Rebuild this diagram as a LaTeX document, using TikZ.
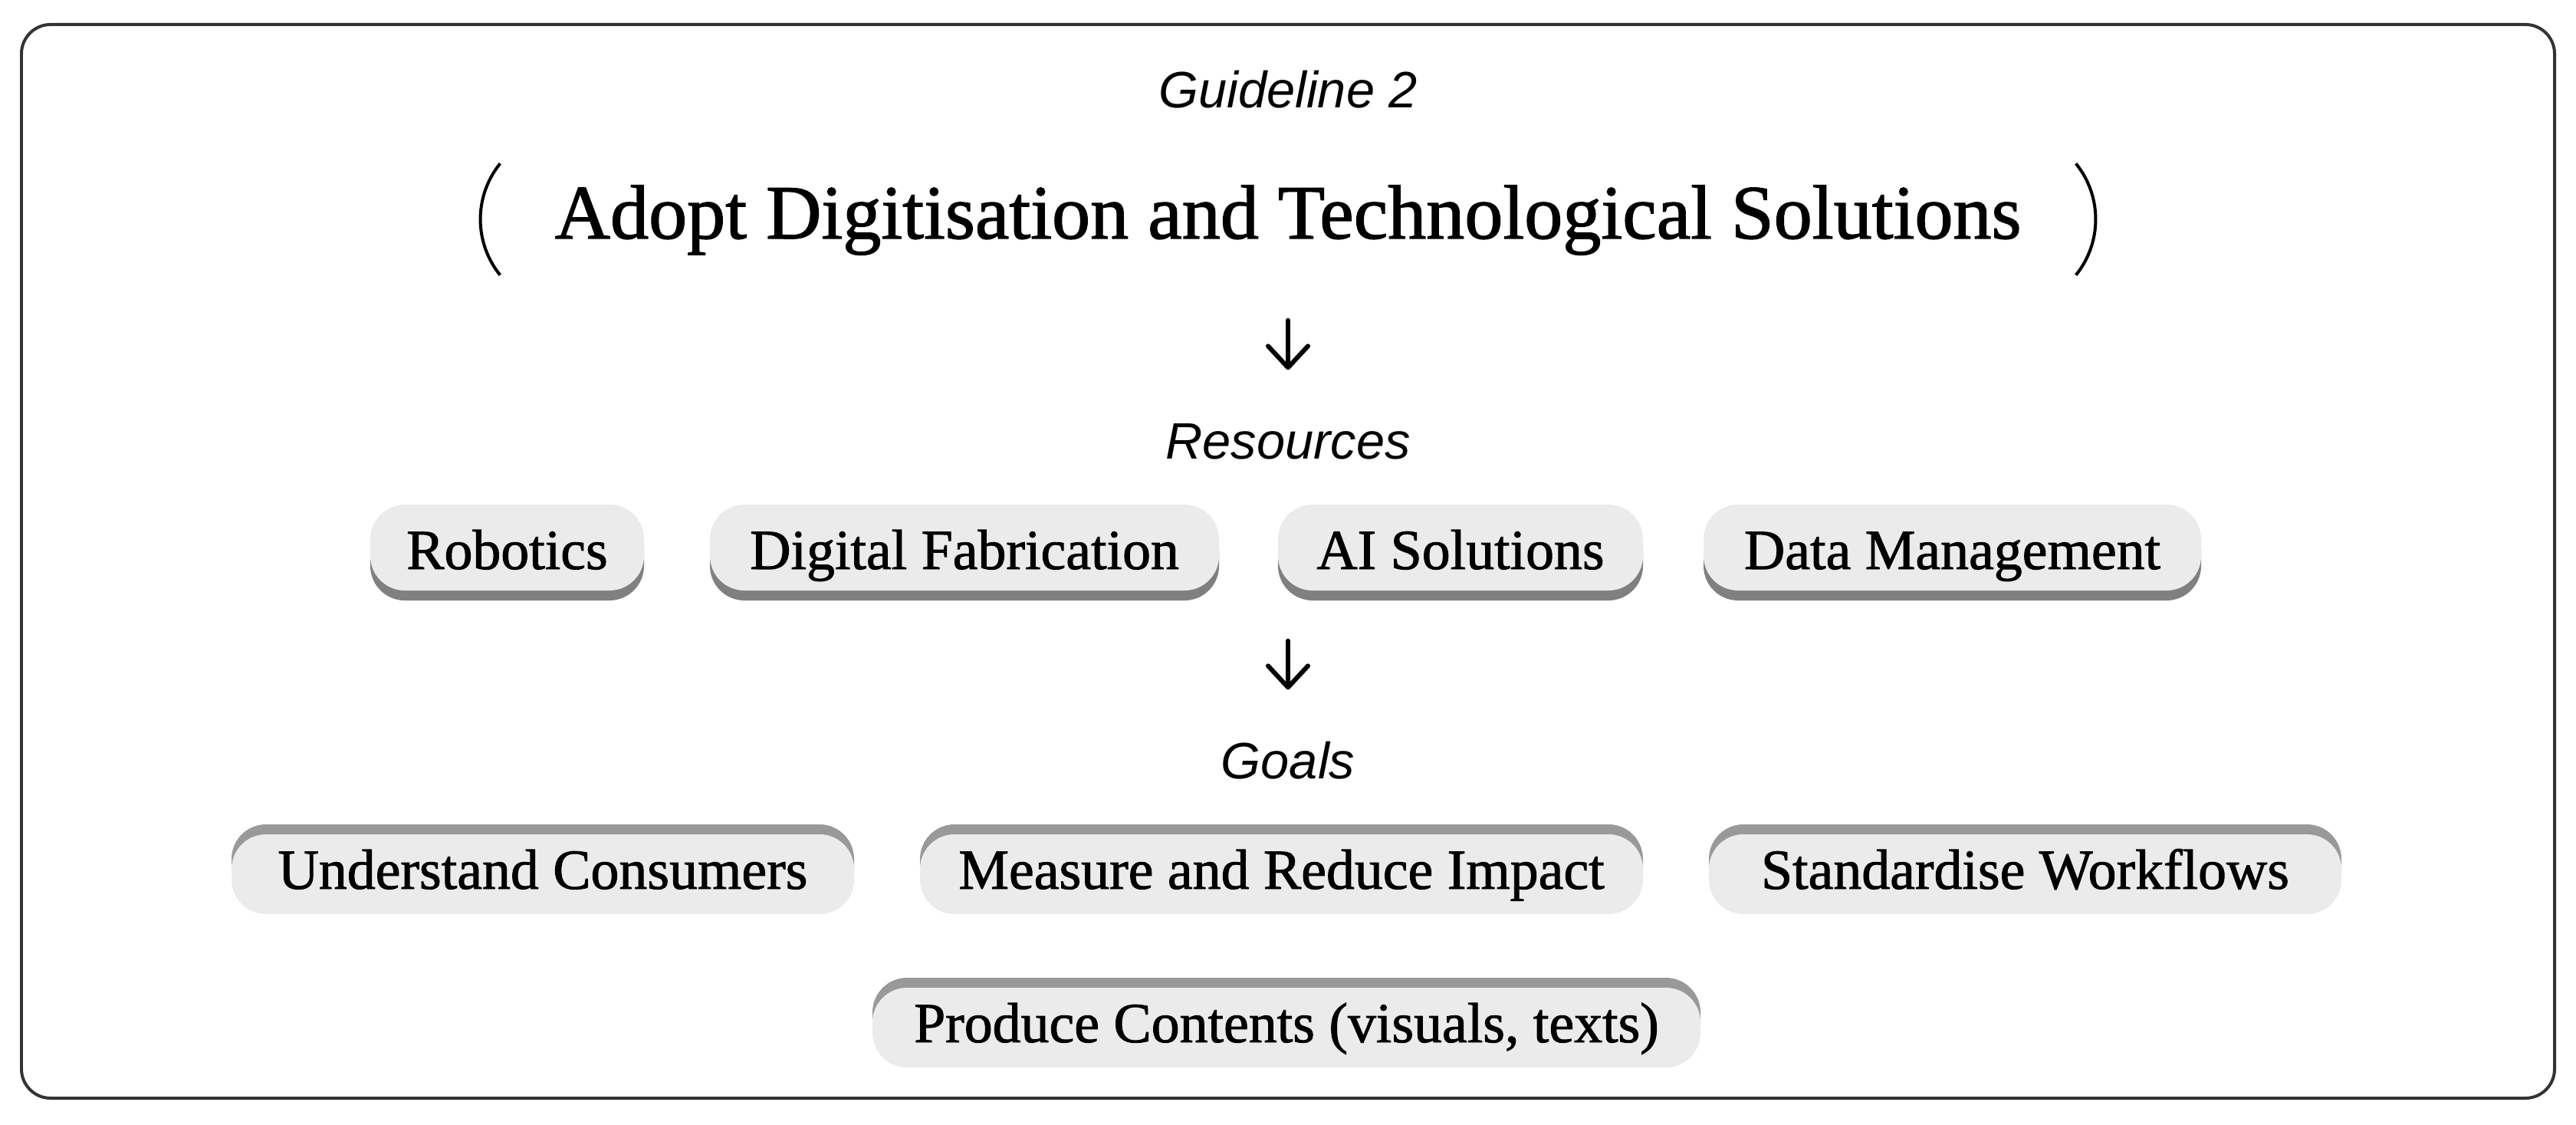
\documentclass[tikz,border=0pt]{standalone}
\usepackage{fontspec}
\usepackage{xcolor}
\usetikzlibrary{arrows.meta,shadows}
\newfontfamily\pillfont{Liberation Serif}[BoldFont={Liberation Serif},BoldFeatures={FakeBold=1.3}]
\newfontfamily\headfont{Liberation Sans}
\definecolor{pillfill}{HTML}{EBEBEB}
\definecolor{resshadow}{HTML}{808080}
\definecolor{goalshadow}{HTML}{999999}
\definecolor{framegray}{HTML}{333333}

\begin{document}
\begin{tikzpicture}[
  heading/.style={inner sep=0pt,text height=0.48cm,text depth=0pt,
    font=\headfont\itshape\fontsize{19pt}{23pt}\selectfont},
  headline/.style={inner sep=0pt,minimum width=20.54cm,minimum height=1.46cm,
    text height=0.48cm,text depth=0pt,font=\pillfont\bfseries\fontsize{28.5pt}{34pt}\selectfont},
  bracket/.style={line width=0.04cm,black},
  pill/.style={fill=pillfill,rounded corners=0.45cm,inner xsep=0pt,
    font=\pillfont\bfseries\fontsize{21pt}{25pt}\selectfont,text depth=0pt},
  respill/.style={pill,minimum height=1.12cm,text height=0.56cm,
    drop shadow={shadow xshift=0cm,shadow yshift=-0.13cm,fill=resshadow,opacity=1}},
  goalpill/.style={pill,minimum height=1.04cm,text height=0.38cm,
    drop shadow={shadow xshift=0cm,shadow yshift=0.13cm,fill=goalshadow,opacity=1}},
  flow/.style={line width=0.06cm,line cap=round,
    -{Straight Barb[length=0.28cm,width=0.52cm,round]}}
]
\useasboundingbox (0,0) rectangle (33.60,-14.67);
\draw[framegray,line width=0.04cm,rounded corners=0.38cm] (0.28,-0.32) rectangle (33.32,-14.32);

\draw (16.80,-1.41) node[heading,anchor=base](guide) {Guideline 2};
\draw (16.80,-2.87) node[headline](title) {Adopt Digitisation and Technological Solutions};
\draw[bracket] (title.north west) arc[start angle=141,end angle=219,radius=1.155cm];
\draw[bracket] (title.north east) arc[start angle=39,end angle=-39,radius=1.155cm];

\draw (16.80,-5.98) node[heading,anchor=base](reslabel) {Resources};
\draw (6.615,-7.14) node[respill,minimum width=3.57cm](robotics) {Robotics};
\draw (12.58,-7.14) node[respill,minimum width=6.64cm](fabrication) {Digital Fabrication};
\draw (19.05,-7.14) node[respill,minimum width=4.76cm](ai) {AI Solutions};
\draw (25.465,-7.14) node[respill,minimum width=6.49cm](data) {Data Management};

\draw (16.80,-10.15) node[heading,anchor=base](goallabel) {Goals};
\draw (7.08,-11.40) node[goalpill,minimum width=8.12cm](consumers) {Understand Consumers};
\draw (16.715,-11.40) node[goalpill,minimum width=9.43cm](impact) {Measure and Reduce Impact};
\draw (26.415,-11.40) node[goalpill,minimum width=8.25cm](workflows) {Standardise Workflows};
\draw (16.78,-13.40) node[goalpill,minimum width=10.80cm](contents) {Produce Contents (visuals, texts)};

\draw[flow,shorten <=0.57cm,shorten >=0.67cm] (title.south) -- (reslabel.north);
\draw[flow,shorten <=2.37cm,shorten >=0.67cm] (reslabel.south) -- (goallabel.north);
\end{tikzpicture}
\end{document}
